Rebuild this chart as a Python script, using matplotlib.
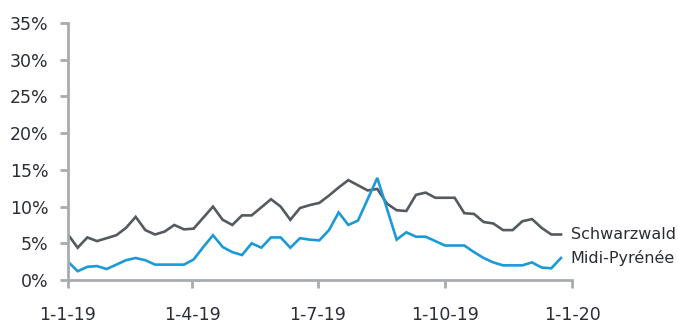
import matplotlib
matplotlib.use("Agg")
import matplotlib.pyplot as plt
import pandas as pd

# weekly share, in percent
weeks = pd.date_range("2019-01-01", periods=52, freq="7D")
schwarzwald = [6.2, 4.4, 5.8, 5.3, 5.7, 6.1, 7.1, 8.6, 6.8, 6.2,
               6.6, 7.5, 6.9, 7.0, 8.5, 10.0, 8.2, 7.5, 8.8, 8.8,
               9.9, 11.0, 10.0, 8.2, 9.8, 10.2, 10.5, 11.5, 12.6, 13.6,
               12.9, 12.2, 12.4, 10.4, 9.5, 9.4, 11.6, 11.9, 11.2, 11.2,
               11.2, 9.1, 9.0, 7.9, 7.7, 6.8, 6.8, 8.0, 8.3, 7.1,
               6.2, 6.2]
midi_pyrenee = [2.5, 1.2, 1.8, 1.9, 1.5, 2.1, 2.7, 3.0, 2.7, 2.1,
                2.1, 2.1, 2.1, 2.8, 4.5, 6.1, 4.5, 3.8, 3.4, 5.0,
                4.4, 5.8, 5.8, 4.4, 5.7, 5.5, 5.4, 6.8, 9.2, 7.5,
                8.1, 11.0, 13.9, 9.7, 5.5, 6.5, 5.9, 5.9, 5.3, 4.7,
                4.7, 4.7, 3.8, 3.0, 2.4, 2.0, 2.0, 2.0, 2.4, 1.7,
                1.6, 3.0]

tick_dates = pd.to_datetime(["2019-01-01", "2019-04-01", "2019-07-01",
                             "2019-10-01", "2020-01-01"])
tick_labels = ["1-1-19", "1-4-19", "1-7-19", "1-10-19", "1-1-20"]
y_ticks = [0, 5, 10, 15, 20, 25, 30, 35]

gray = "#555a61"
blue = "#1b9ad7"
axis_col = "#a8abaf"
text_col = "#2b2d36"

fig = plt.figure(figsize=(6.78, 3.23), dpi=100)
ax = fig.add_axes([0.1003, 0.133, 0.7434, 0.796])

ax.plot(weeks, schwarzwald, color=gray, lw=1.9, solid_joinstyle="miter")
ax.plot(weeks, midi_pyrenee, color=blue, lw=1.9, solid_joinstyle="miter")

# series names next to the last points
ax.annotate("Schwarzwald", (weeks[-1], schwarzwald[-1]), xytext=(7, 0),
            textcoords="offset points", va="center", ha="left",
            fontsize=11.5, color=text_col, annotation_clip=False)
ax.annotate("Midi-Pyrénée", (weeks[-1], midi_pyrenee[-1]), xytext=(7, 0),
            textcoords="offset points", va="center", ha="left",
            fontsize=11.5, color=text_col, annotation_clip=False)

ax.set_xlim(tick_dates[0], tick_dates[-1])
ax.set_ylim(0, 35)
ax.set_xticks(tick_dates)
ax.set_xticklabels(tick_labels)
ax.set_yticks(y_ticks)
ax.set_yticklabels([f"{v}%" for v in y_ticks])

for side in ("top", "right"):
    ax.spines[side].set_visible(False)
for side in ("left", "bottom"):
    ax.spines[side].set_color(axis_col)
    ax.spines[side].set_linewidth(2)
ax.tick_params(axis="both", colors=axis_col, width=2, length=6,
               labelcolor=text_col, labelsize=12.5)
ax.tick_params(axis="x", pad=13)
ax.tick_params(axis="y", pad=8)

fig.savefig("out.png", dpi=100)
